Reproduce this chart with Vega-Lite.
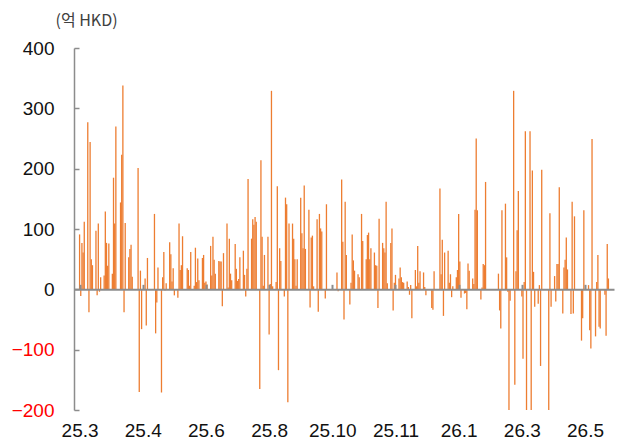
{
"$schema": "https://vega.github.io/schema/vega-lite/v6.json",
"width": 540, "height": 362,
"autosize": {"type": "none"},
"padding": {"left": 74, "top": 48, "right": 8, "bottom": 36},
"background": "white",
"config": {"view": {"stroke": null}},
"data": {"values": [
{"d":"2025-03-03","v":91},{"d":"2025-03-04","v":-11},{"d":"2025-03-05","v":77},{"d":"2025-03-06","v":61},{"d":"2025-03-07","v":112},
{"d":"2025-03-10","v":277},{"d":"2025-03-11","v":-38},{"d":"2025-03-12","v":244},{"d":"2025-03-13","v":50},{"d":"2025-03-14","v":40},
{"d":"2025-03-17","v":97},{"d":"2025-03-18","v":-10},{"d":"2025-03-19","v":109},{"d":"2025-03-20","v":-4},{"d":"2025-03-21","v":20},
{"d":"2025-03-24","v":23},{"d":"2025-03-25","v":129},{"d":"2025-03-26","v":77},{"d":"2025-03-27","v":39},{"d":"2025-03-28","v":76},
{"d":"2025-03-31","v":26},{"d":"2025-04-01","v":185},{"d":"2025-04-02","v":109},{"d":"2025-04-03","v":270},
{"d":"2025-04-07","v":144},{"d":"2025-04-08","v":223},{"d":"2025-04-09","v":338},{"d":"2025-04-10","v":-38},{"d":"2025-04-11","v":110},
{"d":"2025-04-14","v":53},{"d":"2025-04-15","v":67},{"d":"2025-04-16","v":74},{"d":"2025-04-17","v":21},
{"d":"2025-04-22","v":201},{"d":"2025-04-23","v":-170},{"d":"2025-04-24","v":31},{"d":"2025-04-25","v":-66},
{"d":"2025-04-28","v":18},{"d":"2025-04-29","v":-60},{"d":"2025-04-30","v":52},
{"d":"2025-05-06","v":125},{"d":"2025-05-07","v":-73},{"d":"2025-05-08","v":-22},{"d":"2025-05-09","v":36},
{"d":"2025-05-12","v":-171},{"d":"2025-05-13","v":20},{"d":"2025-05-14","v":62},{"d":"2025-05-15","v":-2},{"d":"2025-05-16","v":10},
{"d":"2025-05-19","v":78},{"d":"2025-05-20","v":58},{"d":"2025-05-21","v":13},{"d":"2025-05-22","v":35},{"d":"2025-05-23","v":-10},
{"d":"2025-05-26","v":-14},{"d":"2025-05-27","v":109},{"d":"2025-05-28","v":32},{"d":"2025-05-29","v":40},{"d":"2025-05-30","v":88},
{"d":"2025-06-03","v":35},{"d":"2025-06-04","v":32},{"d":"2025-06-05","v":6},{"d":"2025-06-06","v":62},
{"d":"2025-06-09","v":6},{"d":"2025-06-10","v":69},{"d":"2025-06-11","v":12},{"d":"2025-06-12","v":51},{"d":"2025-06-13","v":15},
{"d":"2025-06-16","v":52},{"d":"2025-06-17","v":57},{"d":"2025-06-18","v":11},{"d":"2025-06-19","v":13},{"d":"2025-06-20","v":8},
{"d":"2025-06-23","v":72},{"d":"2025-06-24","v":23},{"d":"2025-06-25","v":87},{"d":"2025-06-26","v":49},{"d":"2025-06-27","v":26},
{"d":"2025-06-30","v":47},{"d":"2025-07-01","v":46},{"d":"2025-07-02","v":46},{"d":"2025-07-03","v":-28},{"d":"2025-07-04","v":60},
{"d":"2025-07-07","v":109},{"d":"2025-07-08","v":3},{"d":"2025-07-09","v":84},{"d":"2025-07-10","v":26},{"d":"2025-07-11","v":15},
{"d":"2025-07-14","v":75},{"d":"2025-07-15","v":34},{"d":"2025-07-16","v":14},{"d":"2025-07-17","v":17},{"d":"2025-07-18","v":53},
{"d":"2025-07-21","v":64},{"d":"2025-07-22","v":24},{"d":"2025-07-23","v":-12},{"d":"2025-07-24","v":34},{"d":"2025-07-25","v":183},
{"d":"2025-07-28","v":84},{"d":"2025-07-29","v":116},{"d":"2025-07-30","v":107},{"d":"2025-07-31","v":120},{"d":"2025-08-01","v":112},
{"d":"2025-08-04","v":-165},{"d":"2025-08-05","v":214},{"d":"2025-08-06","v":87},{"d":"2025-08-07","v":6},{"d":"2025-08-08","v":57},
{"d":"2025-08-11","v":87},{"d":"2025-08-12","v":-75},{"d":"2025-08-13","v":9},{"d":"2025-08-14","v":329},{"d":"2025-08-15","v":5},
{"d":"2025-08-18","v":12},{"d":"2025-08-19","v":171},{"d":"2025-08-20","v":-134},{"d":"2025-08-21","v":68},{"d":"2025-08-22","v":47},
{"d":"2025-08-25","v":-12},{"d":"2025-08-26","v":152},{"d":"2025-08-27","v":141},{"d":"2025-08-28","v":-187},{"d":"2025-08-29","v":109},
{"d":"2025-09-01","v":109},{"d":"2025-09-02","v":84},{"d":"2025-09-03","v":50},{"d":"2025-09-04","v":6},{"d":"2025-09-05","v":50},
{"d":"2025-09-08","v":152},{"d":"2025-09-09","v":93},{"d":"2025-09-10","v":68},{"d":"2025-09-11","v":172},{"d":"2025-09-12","v":67},
{"d":"2025-09-15","v":132},{"d":"2025-09-16","v":-30},{"d":"2025-09-17","v":86},{"d":"2025-09-18","v":89},{"d":"2025-09-19","v":5},
{"d":"2025-09-22","v":116},{"d":"2025-09-23","v":-37},{"d":"2025-09-24","v":125},{"d":"2025-09-25","v":101},{"d":"2025-09-26","v":96},
{"d":"2025-09-29","v":-15},{"d":"2025-09-30","v":141},
{"d":"2025-10-09","v":28},{"d":"2025-10-10","v":-3},
{"d":"2025-10-13","v":182},{"d":"2025-10-14","v":79},{"d":"2025-10-15","v":-50},{"d":"2025-10-16","v":145},{"d":"2025-10-17","v":57},
{"d":"2025-10-20","v":-25},{"d":"2025-10-21","v":11},{"d":"2025-10-22","v":91},{"d":"2025-10-23","v":48},{"d":"2025-10-24","v":31},
{"d":"2025-10-27","v":25},{"d":"2025-10-28","v":20},{"d":"2025-10-30","v":125},{"d":"2025-10-31","v":80},
{"d":"2025-11-03","v":50},{"d":"2025-11-04","v":90},{"d":"2025-11-05","v":94},{"d":"2025-11-06","v":50},{"d":"2025-11-07","v":68},
{"d":"2025-11-10","v":61},{"d":"2025-11-11","v":40},{"d":"2025-11-12","v":39},{"d":"2025-11-13","v":-31},{"d":"2025-11-14","v":117},
{"d":"2025-11-17","v":77},{"d":"2025-11-18","v":68},{"d":"2025-11-19","v":61},{"d":"2025-11-20","v":145},{"d":"2025-11-21","v":10},
{"d":"2025-11-24","v":77},{"d":"2025-11-25","v":101},{"d":"2025-11-26","v":-35},{"d":"2025-11-27","v":11},{"d":"2025-11-28","v":24},
{"d":"2025-12-01","v":18},{"d":"2025-12-02","v":36},{"d":"2025-12-03","v":20},{"d":"2025-12-04","v":12},{"d":"2025-12-05","v":11},
{"d":"2025-12-08","v":13},{"d":"2025-12-09","v":4},{"d":"2025-12-10","v":-9},{"d":"2025-12-11","v":7},{"d":"2025-12-12","v":-48},
{"d":"2025-12-15","v":32},{"d":"2025-12-16","v":5},{"d":"2025-12-17","v":72},{"d":"2025-12-18","v":11},{"d":"2025-12-19","v":30},
{"d":"2025-12-22","v":28},{"d":"2025-12-23","v":4},{"d":"2025-12-24","v":-10},
{"d":"2025-12-29","v":-31},{"d":"2025-12-30","v":-34},{"d":"2025-12-31","v":30},
{"d":"2026-01-05","v":167},{"d":"2026-01-06","v":25},{"d":"2026-01-07","v":82},{"d":"2026-01-08","v":-44},{"d":"2026-01-09","v":61},
{"d":"2026-01-12","v":64},{"d":"2026-01-13","v":11},{"d":"2026-01-14","v":25},{"d":"2026-01-15","v":-13},{"d":"2026-01-16","v":5},
{"d":"2026-01-19","v":20},{"d":"2026-01-20","v":32},{"d":"2026-01-21","v":125},{"d":"2026-01-22","v":46},{"d":"2026-01-23","v":-14},
{"d":"2026-01-26","v":-7},{"d":"2026-01-27","v":-6},{"d":"2026-01-28","v":-33},{"d":"2026-01-29","v":43},{"d":"2026-01-30","v":31},
{"d":"2026-02-02","v":18},{"d":"2026-02-03","v":9},{"d":"2026-02-04","v":132},{"d":"2026-02-05","v":250},{"d":"2026-02-06","v":131},
{"d":"2026-02-09","v":-17},{"d":"2026-02-10","v":3},{"d":"2026-02-11","v":42},{"d":"2026-02-12","v":40},{"d":"2026-02-13","v":178},
{"d":"2026-02-24","v":26},{"d":"2026-02-25","v":-35},{"d":"2026-02-26","v":-65},{"d":"2026-02-27","v":131},
{"d":"2026-03-02","v":142},{"d":"2026-03-03","v":53},{"d":"2026-03-04","v":-4},{"d":"2026-03-05","v":-215},{"d":"2026-03-06","v":-19},
{"d":"2026-03-09","v":329},{"d":"2026-03-10","v":-158},{"d":"2026-03-11","v":30},{"d":"2026-03-12","v":98},{"d":"2026-03-13","v":163},
{"d":"2026-03-16","v":-12},{"d":"2026-03-17","v":-115},{"d":"2026-03-18","v":12},{"d":"2026-03-19","v":262},{"d":"2026-03-20","v":-215},
{"d":"2026-03-23","v":262},{"d":"2026-03-24","v":-215},{"d":"2026-03-25","v":197},{"d":"2026-03-26","v":29},{"d":"2026-03-27","v":-29},
{"d":"2026-03-30","v":-24},{"d":"2026-03-31","v":7},{"d":"2026-04-01","v":-127},{"d":"2026-04-02","v":198},
{"d":"2026-04-08","v":-215},{"d":"2026-04-09","v":126},{"d":"2026-04-10","v":-29},
{"d":"2026-04-13","v":22},{"d":"2026-04-14","v":-20},{"d":"2026-04-15","v":42},{"d":"2026-04-16","v":42},{"d":"2026-04-17","v":169},
{"d":"2026-04-20","v":-40},{"d":"2026-04-21","v":36},{"d":"2026-04-22","v":49},{"d":"2026-04-23","v":86},{"d":"2026-04-24","v":33},
{"d":"2026-04-27","v":-41},{"d":"2026-04-28","v":145},{"d":"2026-04-29","v":-40},{"d":"2026-04-30","v":121},
{"d":"2026-05-06","v":-85},{"d":"2026-05-07","v":-48},{"d":"2026-05-08","v":131},
{"d":"2026-05-12","v":7},{"d":"2026-05-13","v":-68},{"d":"2026-05-14","v":-98},{"d":"2026-05-15","v":249},
{"d":"2026-05-18","v":-78},{"d":"2026-05-19","v":12},{"d":"2026-05-20","v":57},{"d":"2026-05-21","v":-62},{"d":"2026-05-22","v":-65},
{"d":"2026-05-26","v":-9},{"d":"2026-05-27","v":-77},{"d":"2026-05-28","v":75},{"d":"2026-05-29","v":18}
]},
"layer": [
{"mark": {"type": "bar", "color": "#ED7D31", "size": 1.3, "clip": true},
 "encoding": {
  "x": {"field": "d", "type": "temporal",
   "scale": {"type": "utc", "domain": [{"year": 2025, "month": 3, "date": 2, "hours": 12, "utc": true}, {"year": 2026, "month": 5, "date": 29, "hours": 12, "utc": true}]},
   "axis": {"orient": "bottom", "offset": -120.67, "title": null, "labels": false, "grid": false, "zindex": 1,
    "values": [{"year": 2025, "month": 3, "date": 3, "utc": true}, {"year": 2025, "month": 4, "date": 26, "utc": true}, {"year": 2025, "month": 6, "date": 19, "utc": true}, {"year": 2025, "month": 8, "date": 12, "utc": true}, {"year": 2025, "month": 10, "date": 5, "utc": true}, {"year": 2025, "month": 11, "date": 28, "utc": true}, {"year": 2026, "month": 1, "date": 21, "utc": true}, {"year": 2026, "month": 3, "date": 16, "utc": true}, {"year": 2026, "month": 5, "date": 9, "utc": true}],
    "domainColor": "#8c8c8c", "domainWidth": 2, "tickColor": "#8c8c8c", "tickWidth": 2, "tickSize": -5}},
  "y": {"field": "v", "type": "quantitative",
   "scale": {"domain": [-200, 400], "nice": false},
   "axis": {"values": [-200, -100, 0, 100, 200, 300, 400], "grid": false,
    "domainColor": "#8c8c8c", "domainWidth": 1.5, "tickColor": "#8c8c8c", "tickWidth": 1.5, "tickSize": -5,
    "labelFont": "Liberation Sans", "labelFontSize": 19, "labelPadding": 25,
    "labelColor": {"condition": {"test": "datum.value < 0", "value": "#FF0000"}, "value": "#111111"},
    "title": "(억 HKD)", "titleAngle": 0, "titleX": -19, "titleY": -23, "titleAlign": "left", "titleBaseline": "alphabetic",
    "titleFont": "Noto Sans CJK KR", "titleFontSize": 16, "titleFontWeight": "normal", "titleColor": "#404040"}}
 }},
{"mark": {"type": "bar", "opacity": 0, "size": 1},
 "encoding": {
  "x": {"field": "d", "type": "temporal",
   "axis": {"orient": "bottom", "title": null, "grid": false, "domain": false, "ticks": false, "format": "%y.%-m",
    "values": [{"year": 2025, "month": 3, "date": 3, "utc": true}, {"year": 2025, "month": 4, "date": 26, "utc": true}, {"year": 2025, "month": 6, "date": 19, "utc": true}, {"year": 2025, "month": 8, "date": 12, "utc": true}, {"year": 2025, "month": 10, "date": 5, "utc": true}, {"year": 2025, "month": 11, "date": 28, "utc": true}, {"year": 2026, "month": 1, "date": 21, "utc": true}, {"year": 2026, "month": 3, "date": 16, "utc": true}, {"year": 2026, "month": 5, "date": 9, "utc": true}],
    "labelFont": "Liberation Sans", "labelFontSize": 19, "labelColor": "#111111", "labelPadding": 11, "labelFlush": false, "labelOverlap": false}},
  "y": {"field": "v", "type": "quantitative"}
 }}
],
"resolve": {"axis": {"x": "independent"}}
}
